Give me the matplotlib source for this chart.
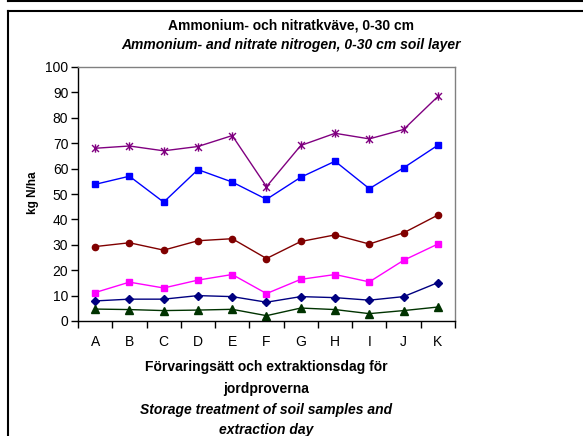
import matplotlib
matplotlib.use("Agg")
import matplotlib.pyplot as plt
from matplotlib.path import Path
from matplotlib.lines import Line2D

plt.rcParams['font.family'] = ['Liberation Sans', 'DejaVu Sans']

categories = ["A", "B", "C", "D", "E", "F", "G", "H", "I", "J", "K"]

# (kg N/ha)
total = [68.0, 68.9, 67.0, 68.7, 73.0, 52.9, 69.1, 73.9, 71.7, 75.4, 88.4]
blue_sq = [53.8, 57.0, 46.8, 59.6, 54.7, 47.9, 56.6, 62.9, 52.1, 60.3, 69.2]
red_circ = [29.3, 30.8, 27.9, 31.6, 32.4, 24.6, 31.3, 33.9, 30.3, 34.7, 41.7]
pink_sq = [11.2, 15.3, 13.0, 16.1, 18.3, 10.8, 16.4, 18.3, 15.4, 23.9, 30.3]
navy_dia = [7.9, 8.6, 8.6, 10.0, 9.6, 7.4, 9.6, 9.2, 8.2, 9.6, 15.1]
green_tri = [4.7, 4.5, 4.1, 4.3, 4.6, 2.1, 5.1, 4.5, 2.9, 4.1, 5.5]

# excel style star: an x with a vertical bar
star = Path([(-1, -1), (1, 1), (-1, 1), (1, -1), (0, -1.2), (0, 1.2)],
            [Path.MOVETO, Path.LINETO, Path.MOVETO, Path.LINETO, Path.MOVETO, Path.LINETO])

fig = plt.figure(figsize=(5.83, 4.36), dpi=100)
W, H = 583, 436
ax = fig.add_axes([78 / W, 1 - 321 / H, (455 - 78) / W, (321 - 67) / H])

x = list(range(len(categories)))
ax.plot(x, total, color="#800080", lw=1, marker=star, ms=6, mew=1, mec="#800080")
ax.plot(x, blue_sq, color="#0000FF", lw=1, marker="s", ms=5, mec="#0000FF")
ax.plot(x, red_circ, color="#800000", lw=1, marker="o", ms=4.5, mec="#800000")
ax.plot(x, pink_sq, color="#FF00FF", lw=1, marker="s", ms=5, mec="#FF00FF")
ax.plot(x, navy_dia, color="#000080", lw=1, marker="D", ms=4, mec="#000080")
ax.plot(x, green_tri, color="#003300", lw=1, marker="^", ms=5.5, mec="#003300")

ax.set_xlim(-0.5, len(categories) - 0.5)
ax.set_ylim(0, 100)
ax.set_yticks(range(0, 101, 10))
ax.set_xticks(x)
ax.set_xticklabels(categories)
ax.tick_params(axis="x", length=0, pad=10, labelsize=10)
ax.set_xticks([i - 0.5 for i in range(len(categories) + 1)], minor=True)
ax.tick_params(axis="x", which="minor", length=5, direction="out", width=1)
ax.tick_params(axis="y", length=5, direction="out", width=1, labelsize=10, pad=2)

for s in ["top", "right"]:
    ax.spines[s].set_color("#808080")
    ax.spines[s].set_linewidth(1)
for s in ["left", "bottom"]:
    ax.spines[s].set_color("black")
    ax.spines[s].set_linewidth(1)

fig.text(33 / W, 1 - 193 / H, "kg N/ha", rotation=90, ha="center", va="center",
         fontsize=8.5, fontweight="bold")

fig.text(291 / W, 1 - 25 / H, "Ammonium- och nitratkväve, 0-30 cm", ha="center", va="center",
         fontsize=10, fontweight="bold")
fig.text(291 / W, 1 - 45 / H, "Ammonium- and nitrate nitrogen, 0-30 cm soil layer",
         ha="center", va="center", fontsize=10, fontweight="bold", style="italic")

fig.text(266 / W, 1 - 367 / H, "Förvaringsätt och extraktionsdag för", ha="center", va="center",
         fontsize=10, fontweight="bold")
fig.text(266 / W, 1 - 389 / H, "jordproverna", ha="center", va="center",
         fontsize=10, fontweight="bold")
fig.text(266 / W, 1 - 410 / H, "Storage treatment of soil samples and", ha="center", va="center",
         fontsize=10, fontweight="bold", style="italic")
fig.text(266 / W, 1 - 430 / H, "extraction day", ha="center", va="center",
         fontsize=10, fontweight="bold", style="italic")

# chart borders
fig.add_artist(Line2D([8 / W, 1], [1 - 1.5 / H, 1 - 1.5 / H], color="black", lw=1.5))
fig.add_artist(Line2D([8 / W, 8 / W], [1, 1 - 1.5 / H], color="black", lw=1.5))
fig.add_artist(Line2D([8 / W, 1], [1 - 11.5 / H, 1 - 11.5 / H], color="black", lw=1.5))
fig.add_artist(Line2D([8 / W, 8 / W], [1 - 11.5 / H, 0], color="black", lw=1.5))

fig.savefig("out.png", dpi=100)
